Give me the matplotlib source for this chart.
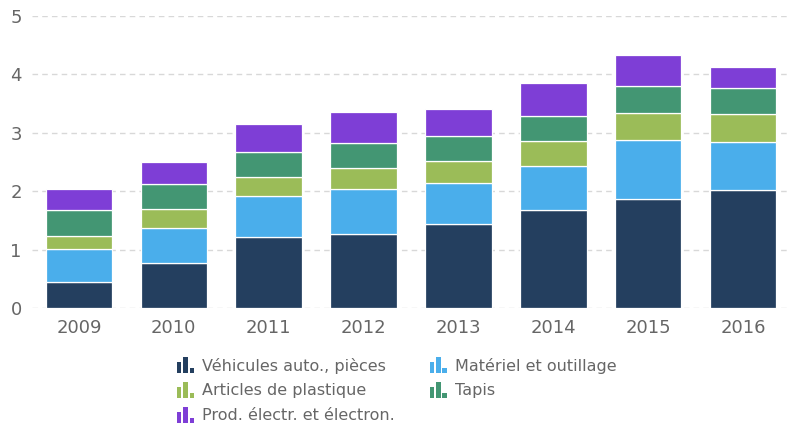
import matplotlib

matplotlib.use("Agg")
import matplotlib.pyplot as plt
from matplotlib.patches import Rectangle

years = ["2009", "2010", "2011", "2012", "2013", "2014", "2015", "2016"]
vehicules = [0.45, 0.77, 1.22, 1.26, 1.44, 1.68, 1.86, 2.02]
materiel = [0.56, 0.60, 0.69, 0.77, 0.70, 0.76, 1.02, 0.83]
plastique = [0.22, 0.33, 0.34, 0.37, 0.37, 0.42, 0.46, 0.47]
tapis = [0.45, 0.42, 0.42, 0.43, 0.44, 0.43, 0.46, 0.44]
electro = [0.36, 0.38, 0.48, 0.53, 0.46, 0.57, 0.53, 0.36]

series = [
    ("Véhicules auto., pièces", vehicules, "#243f5f"),
    ("Matériel et outillage", materiel, "#4aaeeb"),
    ("Articles de plastique", plastique, "#9bbc58"),
    ("Tapis", tapis, "#439673"),
    ("Prod. électr. et électron.", electro, "#7e3ed6"),
]

c_text = "#666666"
c_grid = "#d8d8d8"

fig = plt.figure(figsize=(7.94, 4.28), dpi=100)
ax = fig.add_axes([31.5 / 794, 120 / 428, 759 / 794, 292 / 428])

x = list(range(len(years)))
bottom = [0.0] * len(years)
for name, vals, color in series:
    ax.bar(x, vals, width=0.7, bottom=bottom, color=color,
           edgecolor="white", linewidth=0.9, zorder=3)
    bottom = [b + v for b, v in zip(bottom, vals)]

ax.set_xlim(-0.5, len(years) - 0.5)
ax.set_ylim(0, 5)
ax.set_yticks(range(6))
ax.set_xticks(x)
ax.set_xticklabels(years)
ax.tick_params(axis="both", length=0, labelsize=13, colors=c_text)
ax.tick_params(axis="x", pad=8)
ax.tick_params(axis="y", pad=7)
ax.grid(axis="y", color=c_grid, linestyle=(0, (4, 3)), linewidth=1, zorder=0)
for s in ax.spines.values():
    s.set_visible(False)


def icon(px, py, color):
    # little bar-chart glyph, px = left, py = baseline, pixels from top-left
    bars = [(0, 4, 11), (6, 4.5, 16), (12.5, 4.5, 5)]
    for dx, w, h in bars:
        fig.patches.append(Rectangle(((px + dx) / 794, (428 - py) / 428),
                                     w / 794, h / 428, facecolor=color,
                                     linewidth=0, transform=fig.transFigure,
                                     figure=fig))


cols = [177, 430]
rows = [366, 391, 416]
for i, (name, vals, color) in enumerate(series):
    cx = cols[i % 2]
    cy = rows[i // 2]
    icon(cx, cy + 7, color)
    fig.text((cx + 25) / 794, (428 - cy) / 428, name, fontsize=11.5,
             color=c_text, va="center", ha="left")

fig.savefig("out.png", dpi=100, facecolor="white")
